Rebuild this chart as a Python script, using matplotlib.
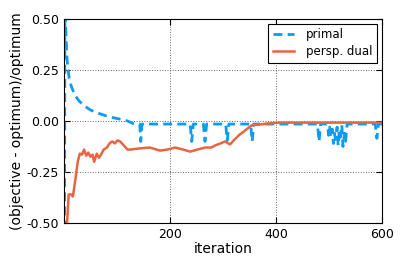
import matplotlib
matplotlib.use("Agg")
import matplotlib.pyplot as plt

# primal: (iteration, relative gap)
primal_iter = [1, 2, 3, 4, 5, 6, 8, 10, 14, 20, 28, 38, 50, 65, 80, 95, 110, 120, 130,
               143, 145, 147, 238, 241, 244, 263, 266, 269, 305, 308, 311, 352, 355, 358,
               478, 481, 484, 497, 499, 501, 503, 506, 508, 510, 512, 515, 517, 519,
               521, 524, 526, 529, 531, 534, 587, 590, 593, 600]
primal_val = [-1.0, 0.7, 0.5, 0.42, 0.35, 0.3, 0.25, 0.21, 0.17, 0.13, 0.1, 0.075, 0.054,
              0.038, 0.025, 0.015, 0.007, 0.0, -0.012,
              -0.015, -0.1, -0.015, -0.015, -0.1, -0.015, -0.015, -0.1, -0.015,
              -0.015, -0.095, -0.015, -0.015, -0.1, -0.015,
              -0.015, -0.1, -0.015, -0.015, -0.07, -0.03, -0.08, -0.04, -0.11, -0.06,
              -0.09, -0.03, -0.12, -0.05, -0.08, -0.02, -0.125, -0.06, -0.1, -0.015,
              -0.015, -0.085, -0.015, -0.015]

# perspective dual
dual_iter = [1, 4, 6, 9, 14, 17, 22, 26, 30, 34, 38, 42, 46, 50, 54, 57, 62, 66, 70, 75,
             81, 86, 91, 96, 101, 106, 113, 120, 125, 140, 162, 181, 195, 210, 225, 238,
             252, 266, 278, 285, 295, 304, 313, 322, 332, 340, 347, 355, 367, 379, 395,
             408, 450, 500, 600]
dual_val = [-1.2, -0.8, -0.5, -0.36, -0.36, -0.37, -0.28, -0.2, -0.16, -0.165, -0.14,
            -0.17, -0.155, -0.175, -0.165, -0.2, -0.16, -0.18, -0.165, -0.14,
            -0.13, -0.11, -0.1, -0.11, -0.095, -0.1, -0.12, -0.14, -0.14, -0.135,
            -0.13, -0.145, -0.14, -0.13, -0.14, -0.15, -0.14, -0.13, -0.13, -0.12,
            -0.11, -0.1, -0.115, -0.09, -0.065, -0.05, -0.035, -0.02, -0.018, -0.014,
            -0.01, -0.008, -0.008, -0.008, -0.008]

plt.rcParams['xtick.direction'] = 'in'
plt.rcParams['ytick.direction'] = 'in'
plt.rcParams['xtick.top'] = True
plt.rcParams['ytick.right'] = True

fig = plt.figure(figsize=(4.07, 2.71), dpi=100)
ax = fig.add_axes([0.157, 0.177, 0.782, 0.753])

ax.plot(primal_iter, primal_val, '--', color='#0a9cf5', lw=2, dashes=(3.2, 1.9), label='primal')
ax.plot(dual_iter, dual_val, '-', color='#e8653f', lw=1.8, label='persp. dual')

ax.set_xlim(0, 600)
ax.set_ylim(-0.5, 0.5)
ax.set_xticks([200, 400, 600])
ax.set_yticks([-0.5, -0.25, 0, 0.25, 0.5])
ax.set_yticklabels(['-0.50', '-0.25', '0.00', '0.25', '0.50'])
ax.tick_params(labelsize=9, length=4, width=0.8)
ax.grid(True, linestyle=':', color='0.4', lw=0.7)
ax.set_xlabel('iteration', fontsize=10, labelpad=1)
ax.set_ylabel('(objective - optimum)/optimum', fontsize=10, labelpad=2)

leg = ax.legend(loc='upper right', fontsize=8.5, fancybox=False, framealpha=1,
                edgecolor='black', handlelength=1.8, labelspacing=0.3,
                borderaxespad=0.4, handletextpad=1.0)
leg.get_frame().set_linewidth(0.8)

fig.savefig('out.png', dpi=100)
